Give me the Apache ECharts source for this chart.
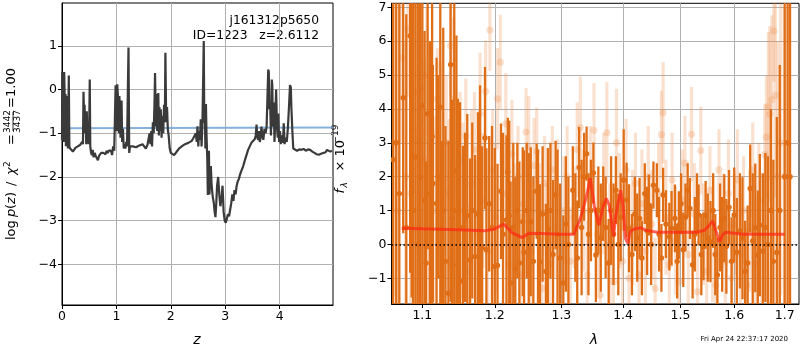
<!DOCTYPE html>
<html>
<head>
<meta charset="utf-8">
<script src="https://cdn.jsdelivr.net/npm/echarts@6/dist/echarts.min.js"></script>
<style>
html, body { margin: 0; padding: 0; background: #fff; }
#chart { width: 800px; height: 350px; }
</style>
</head>
<body>
<div id="chart"></div>
<script>
// Redshift probability curve: [z, log p(z)]
const pzCurve = [
  [0.000,-1.15],[0.005,0.40],[0.012,-0.90],[0.020,0.38],[0.030,-1.20],[0.040,0.40],[0.048,0.38],
  [0.055,-0.50],[0.065,-0.10],[0.072,-1.30],[0.080,-0.15],[0.090,-1.10],[0.100,-0.80],[0.110,-1.35],
  [0.125,0.32],[0.135,-1.30],[0.150,-1.35],[0.180,-1.38],[0.200,-1.42],[0.220,-1.38],[0.250,-1.33],
  [0.270,-1.35],[0.290,-1.30],[0.310,-1.30],[0.330,-1.27],[0.350,-1.25],[0.370,-1.20],[0.385,-1.25],
  [0.395,-0.05],[0.405,-0.55],[0.415,-0.35],[0.425,-1.00],[0.435,-0.60],[0.445,-1.25],[0.455,-0.50],
  [0.468,-1.10],[0.478,-1.05],[0.488,-1.25],[0.500,-0.85],[0.510,0.23],[0.520,-1.30],[0.535,-1.45],
  [0.550,-1.50],[0.565,-1.38],[0.580,-1.55],[0.600,-1.45],[0.620,-1.52],[0.640,-1.55],[0.660,-1.62],
  [0.680,-1.52],[0.700,-1.55],[0.720,-1.45],[0.740,-1.48],[0.760,-1.45],[0.780,-1.42],[0.800,-1.48],
  [0.820,-1.40],[0.840,-1.45],[0.860,-1.40],[0.880,-1.38],[0.900,-1.40],[0.920,-1.50],[0.940,-1.30],
  [0.960,-1.40],[0.975,-0.50],[0.985,0.10],[0.995,0.12],[1.005,-0.95],[1.015,0.12],[1.025,0.10],
  [1.035,-0.30],[1.045,-1.00],[1.055,-0.15],[1.065,-0.55],[1.075,-1.10],[1.085,-1.00],[1.095,-0.25],
  [1.105,-1.20],[1.120,-0.90],[1.135,-1.35],[1.150,-1.25],[1.165,-1.35],[1.180,-1.20],[1.195,-1.30],
  [1.210,-1.30],[1.222,0.96],[1.235,-1.45],[1.250,-1.30],[1.280,-1.33],[1.300,-1.30],[1.330,-1.28],
  [1.360,-1.32],[1.390,-1.30],[1.420,-1.28],[1.450,-1.32],[1.480,-1.25],[1.510,-1.30],[1.540,-1.35],
  [1.570,-1.27],[1.590,-1.30],[1.610,-1.00],[1.625,-1.25],[1.640,-0.95],[1.655,-1.30],[1.670,-0.75],
  [1.685,-1.00],[1.700,-0.30],[1.710,0.38],[1.720,-0.45],[1.730,-0.85],[1.740,-0.10],[1.750,-0.95],
  [1.760,-0.30],[1.770,-0.08],[1.780,-1.05],[1.790,-0.40],[1.800,-0.95],[1.815,-0.45],[1.830,-1.10],
  [1.845,-0.60],[1.860,-1.00],[1.875,-0.35],[1.890,-0.75],[1.900,0.84],[1.915,-0.75],[1.930,-0.40],
  [1.945,-0.92],[1.960,-1.05],[1.980,-1.35],[2.000,-1.45],[2.030,-1.48],[2.060,-1.50],[2.090,-1.46],
  [2.120,-1.40],[2.150,-1.35],[2.170,-1.38],[2.200,-1.30],[2.230,-1.30],[2.260,-1.25],[2.290,-1.28],
  [2.320,-1.22],[2.350,-1.20],[2.380,-1.18],[2.410,-1.12],[2.440,-1.15],[2.460,-1.00],[2.475,-1.20],
  [2.490,-0.84],[2.505,-1.30],[2.520,-0.95],[2.535,-1.15],[2.550,-0.68],[2.565,-1.30],[2.580,-0.80],
  [2.595,0.30],[2.605,1.11],[2.615,-0.76],[2.625,-0.50],[2.635,-1.35],[2.645,-0.33],[2.655,-1.00],
  [2.670,-1.60],[2.680,-2.41],[2.690,-1.60],[2.700,-1.40],[2.710,-2.40],[2.720,-2.05],[2.735,-1.75],
  [2.750,-2.20],[2.770,-2.45],[2.790,-2.60],[2.805,-2.80],[2.820,-2.92],[2.835,-2.60],[2.850,-2.20],
  [2.870,-2.00],[2.890,-2.40],[2.910,-2.67],[2.930,-2.50],[2.950,-2.20],[2.970,-2.80],[2.990,-3.00],
  [3.010,-3.05],[3.030,-2.95],[3.050,-2.85],[3.070,-2.90],[3.090,-2.75],[3.110,-2.60],[3.130,-2.40],
  [3.150,-2.55],[3.170,-2.30],[3.190,-2.40],[3.210,-2.20],[3.230,-2.10],[3.250,-2.05],[3.270,-1.95],
  [3.300,-1.85],[3.330,-1.75],[3.360,-1.62],[3.390,-1.50],[3.420,-1.38],[3.450,-1.30],[3.480,-1.22],
  [3.510,-1.18],[3.540,-1.14],[3.560,-1.05],[3.575,-0.80],[3.590,-1.10],[3.605,-1.15],[3.620,-0.95],
  [3.635,-1.20],[3.650,-1.10],[3.665,-0.85],[3.680,-1.05],[3.700,-1.15],[3.720,-0.90],[3.740,-1.00],
  [3.760,-0.85],[3.775,-0.20],[3.790,0.46],[3.800,0.40],[3.810,-0.45],[3.825,-0.30],[3.840,-1.05],
  [3.855,0.23],[3.865,0.10],[3.875,-0.85],[3.890,-0.30],[3.905,-1.20],[3.920,-0.65],[3.935,0.00],
  [3.950,-0.85],[3.965,-1.10],[3.975,-0.55],[3.990,-1.20],[4.005,-0.95],[4.020,-1.25],[4.040,-1.05],
  [4.060,-1.22],[4.075,-0.77],[4.090,-1.25],[4.110,-1.10],[4.130,-1.20],[4.150,-0.90],[4.175,-0.30],
  [4.190,0.10],[4.205,0.05],[4.215,-0.40],[4.235,-1.00],[4.250,-1.35],[4.280,-1.38],[4.320,-1.40],
  [4.360,-1.37],[4.400,-1.38],[4.440,-1.36],[4.480,-1.40],[4.520,-1.37],[4.560,-1.38],[4.600,-1.42],
  [4.640,-1.45],[4.680,-1.48],[4.720,-1.49],[4.760,-1.47],[4.800,-1.45],[4.840,-1.44],[4.870,-1.38],
  [4.900,-1.37],[4.930,-1.42],[4.960,-1.40]
];
// Horizontal reference level on the p(z) panel
const refLevel = [[0, -0.885], [4.98, -0.87]];

// Spectrum: [wavelength, flux, error] for the primary beam
const darkBars = [
  [1.062,2.5,6.0],[1.066,3.0,5.5],[1.070,1.5,6.0],[1.075,4.33,4.0],[1.079,0.5,6.3],[1.084,6.16,7.0],
  [1.086,3.43,5.0],[1.088,1.0,6.5],[1.091,2.58,5.0],[1.094,0.0,7.5],[1.097,2.0,6.0],[1.100,4.1,6.0],
  [1.103,1.3,5.0],[1.105,-0.55,3.0],[1.107,3.86,4.0],[1.110,1.5,4.5],[1.113,3.19,5.0],[1.114,1.8,3.5],
  [1.119,1.21,4.3],[1.121,2.0,3.0],[1.124,4.05,6.0],[1.126,-0.95,4.0],[1.128,1.0,5.4],[1.131,-0.5,4.0],
  [1.135,-1.44,4.5],[1.138,5.31,7.0],[1.140,0.77,3.5],[1.143,1.0,6.5],[1.146,2.17,4.0],[1.148,-0.6,4.9],
  [1.151,0.5,3.7],[1.155,-1.09,4.0],[1.158,0.8,2.5],[1.161,0.85,3.0],[1.165,-0.46,3.0],[1.168,1.0,2.6],
  [1.172,-0.36,3.0],[1.176,0.9,3.0],[1.179,0.2,4.5],[1.182,-0.1,3.0],[1.186,3.14,2.1],[1.188,-0.16,3.0],
  [1.192,1.2,2.0],[1.196,0.5,3.0],[1.200,-0.65,3.5],[1.204,-0.62,3.0],[1.209,1.57,2.0],[1.212,0.3,3.0],
  [1.217,0.72,2.5],[1.219,2.14,1.6],[1.221,0.85,2.8],[1.223,-1.14,3.0],[1.227,0.5,2.5],[1.230,-0.72,2.7],
  [1.233,1.0,2.0],[1.236,-0.55,3.0],[1.241,0.67,2.2],[1.243,-0.23,3.0],[1.247,1.0,2.0],[1.250,0.2,2.5],
  [1.253,0.67,2.2],[1.257,-0.5,2.5],[1.262,1.57,1.4],[1.264,0.3,2.5],[1.267,-0.52,2.3],[1.271,0.9,2.0],
  [1.276,-0.8,2.0],[1.279,0.45,2.4],[1.283,1.0,2.0],[1.287,-0.3,2.2],[1.291,1.46,1.6],[1.294,0.3,2.5],
  [1.298,-0.4,2.2],[1.303,-1.14,2.0],[1.307,0.6,2.0],[1.311,0.0,2.0],[1.318,1.6,1.3],[1.322,0.5,1.6],
  [1.325,-0.4,1.7],[1.328,2.27,1.2],[1.332,0.5,2.0],[1.336,2.0,1.3],[1.340,2.68,0.8],[1.343,0.3,1.8],
  [1.347,1.0,1.5],[1.351,2.11,0.9],[1.355,-0.31,1.4],[1.359,1.0,1.3],[1.363,0.2,1.6],[1.367,1.2,1.1],
  [1.371,0.5,1.5],[1.376,-0.55,1.3],[1.380,1.0,1.6],[1.384,0.3,1.5],[1.388,1.6,1.0],[1.392,0.0,1.5],
  [1.396,0.8,1.3],[1.401,1.9,1.5],[1.406,1.31,1.1],[1.410,0.48,1.3],[1.415,-0.3,1.2],[1.420,0.9,1.1],
  [1.424,0.2,1.3],[1.428,0.77,1.2],[1.432,-0.4,1.1],[1.437,1.5,0.9],[1.441,0.4,1.3],[1.444,1.16,0.9],
  [1.448,0.0,1.2],[1.452,1.75,0.7],[1.458,1.6,0.8],[1.462,0.3,1.1],[1.466,-0.4,1.0],[1.469,1.46,0.8],
  [1.474,0.6,1.0],[1.480,0.23,1.0],[1.484,0.48,1.1],[1.490,0.77,1.0],[1.494,-0.5,1.1],[1.497,0.57,1.0],
  [1.501,1.2,0.9],[1.505,-0.16,1.1],[1.509,0.8,1.0],[1.513,1.6,0.8],[1.517,1.06,0.9],[1.522,-0.6,1.0],
  [1.526,0.3,1.1],[1.530,1.2,0.9],[1.533,0.87,0.9],[1.538,-0.3,1.2],[1.542,-0.06,1.0],[1.546,0.87,1.0],
  [1.550,0.2,1.3],[1.555,0.08,1.2],[1.560,1.0,1.1],[1.564,-0.3,1.2],[1.568,-0.9,1.1],[1.573,0.5,1.3],
  [1.577,0.0,1.4],[1.581,0.77,1.3],[1.585,-0.06,1.4],[1.590,1.1,1.1],[1.595,-0.5,1.3],[1.600,0.87,1.4],
  [1.605,-0.23,1.6],[1.611,0.4,1.7],[1.616,0.18,1.8],[1.621,-0.8,1.5],[1.626,-0.55,1.7],[1.631,1.65,1.3],
  [1.636,0.1,2.0],[1.641,0.49,1.9],[1.646,-0.31,1.9],[1.650,0.57,2.1],[1.656,-0.2,2.3],[1.661,0.5,2.2],
  [1.666,0.0,2.6],[1.672,1.0,3.0],[1.677,-0.5,3.0],[1.684,-0.24,4.0],[1.690,1.0,4.3],[1.700,2.0,8.0],
  [1.706,3.0,8.0],[1.711,2.0,9.0]
];
// Spectrum: [wavelength, flux, error] for the other beams
const lightBars = [
  [1.063,3.0,4.5],[1.068,1.0,3.0],[1.073,5.5,2.5],[1.078,2.0,4.0],[1.081,6.36,2.0],[1.085,1.5,3.5],
  [1.089,4.5,3.0],[1.093,0.5,3.0],[1.096,3.0,3.5],[1.099,4.62,2.5],[1.103,2.5,3.0],[1.106,5.0,2.0],
  [1.109,0.0,2.5],[1.112,3.3,2.5],[1.116,1.0,2.8],[1.120,4.3,1.5],[1.124,2.6,2.8],[1.128,-0.5,2.4],
  [1.132,3.0,2.0],[1.136,1.5,2.2],[1.138,5.87,1.5],[1.142,4.3,2.4],[1.147,0.2,2.4],[1.151,2.5,2.0],
  [1.155,1.0,2.6],[1.159,3.2,1.7],[1.163,-0.8,2.0],[1.167,1.8,2.2],[1.171,2.8,1.7],[1.175,0.3,2.2],
  [1.179,3.86,1.8],[1.183,1.3,2.0],[1.187,4.52,1.5],[1.190,-0.2,2.2],[1.193,6.33,1.2],[1.197,2.2,1.8],
  [1.201,0.8,2.2],[1.204,4.3,1.5],[1.208,5.38,1.4],[1.212,1.5,1.6],[1.216,3.56,1.5],[1.220,-0.6,1.8],
  [1.225,2.67,1.6],[1.229,0.5,1.9],[1.234,2.0,1.5],[1.238,-0.9,1.8],[1.242,1.2,1.6],[1.246,3.32,1.3],
  [1.250,2.88,1.5],[1.254,-0.2,1.8],[1.258,2.33,1.4],[1.262,2.74,1.3],[1.266,0.9,1.5],[1.270,-1.3,1.5],
  [1.274,1.8,1.4],[1.278,0.2,1.6],[1.282,-0.6,1.5],[1.286,2.2,1.3],[1.290,0.5,1.5],[1.294,1.5,1.6],
  [1.299,-1.0,1.5],[1.304,1.0,1.6],[1.309,2.0,1.5],[1.314,-0.5,1.6],[1.320,0.8,1.5],[1.325,2.8,1.4],
  [1.330,3.45,1.5],[1.335,1.0,1.8],[1.341,-0.9,1.6],[1.346,2.0,1.5],[1.352,3.37,1.4],[1.357,0.3,1.7],
  [1.362,-1.5,1.5],[1.368,1.5,1.8],[1.373,3.3,1.5],[1.378,0.0,1.8],[1.384,-1.1,1.4],[1.389,3.0,1.6],
  [1.394,1.0,1.7],[1.399,-0.5,1.8],[1.405,2.2,1.5],[1.410,-1.0,1.6],[1.416,0.5,1.7],[1.421,1.8,1.5],
  [1.427,-0.9,1.5],[1.432,1.2,1.6],[1.438,-0.2,1.7],[1.443,2.0,1.5],[1.449,0.6,1.6],[1.455,-1.3,1.5],
  [1.461,1.5,1.5],[1.466,3.24,1.3],[1.469,3.89,1.5],[1.474,0.8,1.7],[1.480,-0.6,1.5],[1.485,1.9,1.4],
  [1.491,0.1,1.6],[1.497,-1.1,1.6],[1.503,1.3,1.5],[1.508,2.4,1.4],[1.514,-0.3,1.6],[1.520,3.25,1.4],
  [1.525,0.9,1.5],[1.531,-1.4,1.5],[1.537,2.77,1.3],[1.542,0.3,1.5],[1.548,-0.8,1.6],[1.554,1.6,1.3],
  [1.559,0.0,1.7],[1.565,-1.2,1.4],[1.571,2.2,1.2],[1.577,0.7,1.4],[1.583,-0.5,1.5],[1.589,1.5,1.6],
  [1.595,-1.0,1.6],[1.600,0.6,1.5],[1.606,1.9,1.5],[1.612,-0.3,1.8],[1.618,1.0,1.6],[1.624,-1.2,1.7],
  [1.630,0.4,1.8],[1.636,2.2,1.4],[1.642,-0.6,1.8],[1.648,1.3,1.7],[1.654,0.2,1.9],[1.660,2.65,1.5],
  [1.663,3.17,1.8],[1.667,4.07,2.2],[1.670,3.85,2.6],[1.674,4.27,2.5],[1.678,6.3,1.5],[1.681,4.4,3.0],
  [1.686,2.0,4.0],[1.692,3.0,4.5],[1.700,2.0,5.0]
];
// Best-fit template: [wavelength, flux]
const modelLine = [
  [1.073,0.48],[1.100,0.46],[1.150,0.43],[1.185,0.40],[1.199,0.45],[1.213,0.60],[1.225,0.35],
  [1.240,0.20],[1.250,0.33],[1.270,0.32],[1.298,0.30],[1.320,0.30],[1.330,0.77],[1.339,1.36],
  [1.346,1.95],[1.353,1.06],[1.360,0.57],[1.366,1.06],[1.372,1.36],[1.377,1.15],[1.384,0.23],
  [1.388,0.87],[1.396,1.60],[1.400,1.15],[1.404,0.18],[1.408,0.03],[1.412,0.38],[1.420,0.46],
  [1.431,0.49],[1.438,0.42],[1.459,0.36],[1.494,0.36],[1.529,0.36],[1.544,0.42],[1.553,0.57],
  [1.559,0.69],[1.565,0.42],[1.572,0.08],[1.578,0.28],[1.584,0.36],[1.616,0.30],[1.700,0.30]
];

const zTicks = [0, 1, 2, 3, 4];
const logpTicks = [-4, -3, -2, -1, 0, 1];
const waveTicks = [1.1, 1.2, 1.3, 1.4, 1.5, 1.6, 1.7];
const fluxTicks = [-1, 0, 1, 2, 3, 4, 5, 6, 7];
const waveRange = [1.06, 1.7295];

// The wavelength axis is logarithmic: positions are laid out in ln(λ)
const lnWave = rows => rows.map(r => [Math.log(r[0])].concat(r.slice(1)));

const FONT = 'DejaVu Sans';
const DARK = 'rgb(224,110,22)';
const LIGHT = 'rgba(236,140,70,0.26)';
const minus = v => String(v).replace('-', '\u2212');

function errorBars(color, barWidth, radius) {
  return function (params, api) {
    const x = api.value(0), y = api.value(1), e = api.value(2);
    const hi = api.coord([x, y + e]);
    const lo = api.coord([x, y - e]);
    const mid = api.coord([x, y]);
    return {
      type: 'group',
      children: [
        { type: 'rect', shape: { x: hi[0] - barWidth / 2, y: hi[1], width: barWidth, height: lo[1] - hi[1] },
          style: { fill: color } },
        { type: 'circle', shape: { cx: mid[0], cy: mid[1], r: radius }, style: { fill: color } }
      ]
    };
  };
}

const axisCommon = {
  axisLine: { show: true, onZero: false, lineStyle: { color: '#000', width: 1 } },
  axisTick: { show: true, inside: false, length: 4, lineStyle: { color: '#000', width: 1 } },
  splitLine: { show: true, lineStyle: { color: '#b0b0b0', width: 1 } },
  axisLabel: { color: '#000', fontFamily: FONT, fontSize: 12.5, margin: 5, formatter: minus }
};
const withTicks = (base, ticks, extra) => Object.assign({}, axisCommon, base, {
  axisTick: Object.assign({}, axisCommon.axisTick, { customValues: ticks }),
  axisLabel: Object.assign({}, axisCommon.axisLabel, { customValues: ticks }, extra || {})
});

const txt = (text, x, y, font, align, extra) => ({
  type: 'text', x, y,
  style: Object.assign({ text, fill: '#000', font: font + ' "DejaVu Sans"', align, verticalAlign: 'middle' }, extra || {})
});

const chart = echarts.init(document.getElementById('chart'), null, { renderer: 'canvas' });
chart.setOption({
  animation: false,
  backgroundColor: '#fff',
  grid: [
    { left: 62, right: 467, top: 3, bottom: 45, show: true, borderColor: '#000', borderWidth: 1, backgroundColor: 'transparent' },
    { left: 391.5, right: 1, top: 3.3, bottom: 46, show: true, borderColor: '#000', borderWidth: 1, backgroundColor: 'transparent' }
  ],
  xAxis: [
    withTicks({ gridIndex: 0, type: 'value', min: 0, max: 4.98 }, zTicks),
    withTicks({ gridIndex: 1, type: 'value', min: Math.log(waveRange[0]), max: Math.log(waveRange[1]) },
      waveTicks.map(Math.log), { formatter: v => Math.exp(v).toFixed(1) })
  ],
  yAxis: [
    withTicks({ gridIndex: 0, type: 'value', min: -4.93, max: 1.98 }, logpTicks),
    withTicks({ gridIndex: 1, type: 'value', min: -1.76, max: 7.12 }, fluxTicks)
  ],
  series: [
    { type: 'line', xAxisIndex: 0, yAxisIndex: 0, data: refLevel, showSymbol: false,
      lineStyle: { color: 'rgba(110,165,215,0.85)', width: 2 }, z: 2 },
    { type: 'line', xAxisIndex: 0, yAxisIndex: 0, data: pzCurve, showSymbol: false,
      lineStyle: { color: '#3a3a3a', width: 2.2 }, z: 3 },
    { type: 'custom', xAxisIndex: 1, yAxisIndex: 1, data: lnWave(lightBars), clip: true,
      encode: { x: 0, y: 1 }, renderItem: errorBars(LIGHT, 3.2, 3.6), z: 2 },
    { type: 'custom', xAxisIndex: 1, yAxisIndex: 1, data: lnWave(darkBars), clip: true,
      encode: { x: 0, y: 1 }, renderItem: errorBars(DARK, 2.3, 2.7), z: 3 },
    { type: 'line', xAxisIndex: 1, yAxisIndex: 1, data: lnWave(modelLine), showSymbol: false,
      lineStyle: { color: 'rgba(255,35,20,0.7)', width: 3 }, z: 4,
      markLine: { silent: true, symbol: 'none', label: { show: false },
        lineStyle: { color: '#000', type: [1.5, 2.5], width: 1.6 },
        data: [{ yAxis: 0 }] } }
  ],
  graphic: [
    txt('j161312p5650', 319, 21, '12.3px', 'right'),
    txt('ID=1223   z=2.6112', 319, 36, '12.3px', 'right'),
    txt('z', 197, 340, 'italic 14px', 'center'),
    txt('λ', 594, 340, 'italic 14px', 'center'),
    txt('Fri Apr 24 22:37:17 2020', 788, 339, '7px', 'right'),
    // log p(z) / χ² = 3442/3437 = 1.00, written bottom-to-top
    { type: 'group', x: 12, y: 155, rotation: Math.PI / 2, children: [
      txt('log', -85, 0, '13px', 'left'),
      txt('p', -62, 0, 'italic 13px', 'left'),
      txt('(', -54, 0, '13px', 'left'),
      txt('z', -49, 0, 'italic 13px', 'left'),
      txt(')', -42, 0, '13px', 'left'),
      txt('/', -31, 0, '13px', 'left'),
      txt('χ', -20, 0, 'italic 13px', 'left'),
      txt('2', -12, -4, '9px', 'left'),
      txt('=', 10, 0, '13px', 'left'),
      txt('3442', 33.5, -4, '9px', 'center'),
      { type: 'line', shape: { x1: 24, y1: 1, x2: 43, y2: 1 }, style: { stroke: '#000', lineWidth: 0.8 } },
      txt('3437', 33.5, 6, '9px', 'center'),
      txt('=', 47, 0, '13px', 'left'),
      txt('1.00', 58, 0, '13px', 'left')
    ] },
    // f_λ × 10^−19
    { type: 'group', x: 341, y: 156.5, rotation: Math.PI / 2, children: [
      txt('f', -37, 0, 'italic 13px', 'left'),
      txt('λ', -31, 4, 'italic 9px', 'left'),
      txt('× 10', -15, 0, '13px', 'left'),
      txt('\u221219', 13, -5, '9px', 'left')
    ] }
  ]
});
</script>
</body>
</html>
